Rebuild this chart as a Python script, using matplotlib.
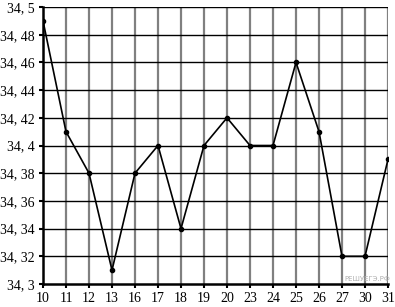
import matplotlib.pyplot as plt
import numpy as np

days = ['10', '11', '12', '13', '16', '17', '18', '19', '20', '23', '24', '25', '26', '27', '30', '31']
values = [34.49, 34.41, 34.38, 34.31, 34.38, 34.40, 34.34, 34.40, 34.42, 34.40, 34.40, 34.46, 34.41, 34.32, 34.32, 34.39]
y_ticks = [34.30, 34.32, 34.34, 34.36, 34.38, 34.40, 34.42, 34.44, 34.46, 34.48, 34.50]
y_labels = ['34, 3', '34, 32', '34, 34', '34, 36', '34, 38', '34, 4', '34, 42', '34, 44', '34, 46', '34, 48', '34, 5']

plt.rcParams['font.family'] = ['Liberation Serif', 'DejaVu Serif']

fig = plt.figure(figsize=(3.95, 3.07), dpi=100)
ax = fig.add_axes([43 / 395, 1 - 284 / 307, 345 / 395, 277 / 307])

x = np.arange(len(days))

# grid: vertical grey, horizontal black
for xi in x[1:]:
    ax.axvline(xi, color='#808080', lw=1.6, zorder=1)
for yt in y_ticks[1:]:
    ax.axhline(yt, color='black', lw=1.0, zorder=1)

ax.plot(x, values, color='black', lw=1.2, marker='o', markersize=3, zorder=3)

ax.set_xlim(0, len(days) - 1)
ax.set_ylim(34.3, 34.5)
ax.set_xticks(x)
ax.set_xticklabels(days)
ax.set_yticks(y_ticks)
ax.set_yticklabels(y_labels)
ax.tick_params(axis='both', labelsize=10, length=3, width=1.5, direction='out', pad=3)

for side in ['top', 'right']:
    ax.spines[side].set_visible(False)
ax.spines['left'].set_linewidth(1.8)
ax.spines['bottom'].set_linewidth(1.8)

fig.text(390 / 395, 1 - 282 / 307, 'РЕШУЕГЭ.РФ', fontsize=5, color='#b0b0b0',
         family='DejaVu Sans', ha='right', va='bottom')

fig.savefig('out.png', dpi=100)
